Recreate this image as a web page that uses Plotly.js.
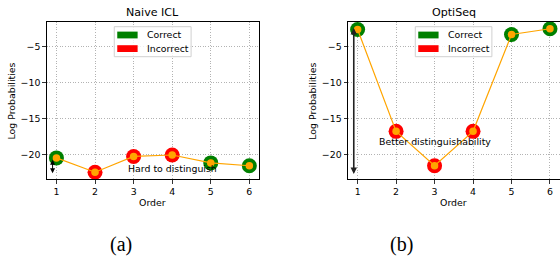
<!DOCTYPE html>
<html>
<head>
<meta charset="utf-8">
<script src="https://cdn.plot.ly/plotly-3.0.1.min.js"></script>
<style>html,body{margin:0;padding:0;background:#fff;}#chart{width:560px;height:257px;}</style>
</head>
<body>
<div id="chart"></div>
<script>
// ---- data ----
const orders = [1, 2, 3, 4, 5, 6];
const naiveLogProbs = [-20.5, -22.5, -20.3, -20.1, -21.2, -21.6];
const optiseqLogProbs = [-2.6, -16.8, -21.6, -16.8, -3.3, -2.5];
const naiveCorrect = [true, false, false, false, true, true];
const optiseqCorrect = [true, false, false, false, true, true];
const panelTitles = ["Naive ICL", "OptiSeq"];
const panelLabels = ["(a)", "(b)"];
const legendLabels = ["Correct", "Incorrect"];
const noteTexts = ["Hard to distinguish", "Better distinguishability"];
const notePos = [[4.0, -22.0], [3.0, -18.15]];
const arrowSpans = [[-20.55, -22.65], [-2.2, -22.75]];
const arrowX = 0.9;
const yTicks = [-5, -10, -15, -20];

// ---- style ----
const W = 560, H = 257;
const GREEN = "#008000", RED = "#ff0000", ORANGE = "#ffa500";
const FONT = "DejaVu Sans";
const px = x => x / W;
const py = y => 1 - y / H;
const xDomains = [[px(46.8), px(259)], [px(348), px(559.6)]];
const yDomain = [py(179.4), py(21.6)];

const traces = [];
const series = [[naiveLogProbs, naiveCorrect], [optiseqLogProbs, optiseqCorrect]];
series.forEach(([vals, corr], i) => {
  const xa = i === 0 ? "x" : "x2", ya = i === 0 ? "y" : "y2";
  traces.push({
    x: orders, y: vals, xaxis: xa, yaxis: ya, type: "scatter", mode: "markers",
    marker: {size: 15, color: corr.map(c => c ? GREEN : RED)},
    showlegend: false, hoverinfo: "skip"
  });
  traces.push({
    x: orders, y: vals, xaxis: xa, yaxis: ya, type: "scatter", mode: "lines+markers",
    line: {color: ORANGE, width: 1.2},
    marker: {size: 7.5, color: ORANGE},
    showlegend: false, hoverinfo: "skip"
  });
});

function axisX(i) {
  return {
    domain: xDomains[i], range: [0.75, 6.25], anchor: i === 0 ? "y" : "y2",
    tickvals: orders, ticktext: orders.map(String),
    ticks: "outside", ticklen: 3.5, tickwidth: 0.8, tickcolor: "#000",
    showline: true, linecolor: "#000", linewidth: 1, mirror: true,
    showgrid: true, gridcolor: "#a0a0a0", griddash: "1px,1.6px", gridwidth: 0.8,
    zeroline: false, tickfont: {family: FONT, size: 9.4, color: "#000"}, fixedrange: true
  };
}
function axisY(i) {
  return {
    domain: yDomain, range: [-23.5, -1.5], anchor: i === 0 ? "x" : "x2",
    tickvals: yTicks, ticktext: yTicks.map(v => "\u2212" + Math.abs(v)),
    ticks: "outside", ticklen: 3.5, tickwidth: 0.8, tickcolor: "#000",
    showline: true, linecolor: "#000", linewidth: 1, mirror: true,
    showgrid: true, gridcolor: "#a0a0a0", griddash: "1px,1.6px", gridwidth: 0.8,
    zeroline: false, tickfont: {family: FONT, size: 9.4, color: "#000"}, fixedrange: true
  };
}

const annotations = [];
const shapes = [];
[0, 1].forEach(i => {
  const xa = i === 0 ? "x" : "x2", ya = i === 0 ? "y" : "y2";
  const [x0, x1] = xDomains[i];
  const xc = (x0 + x1) / 2;
  const L = f => x0 + f * (x1 - x0);
  annotations.push({xref: "paper", yref: "paper", x: xc, y: py(12.5), text: panelTitles[i],
    showarrow: false, xanchor: "center", yanchor: "middle", font: {family: FONT, size: 11.1, color: "#000"}});
  annotations.push({xref: "paper", yref: "paper", x: xc, y: py(202.5), text: "Order",
    showarrow: false, xanchor: "center", yanchor: "middle", font: {family: FONT, size: 9.4, color: "#000"}});
  annotations.push({xref: "paper", yref: "paper", x: px(x0 * W - 35.3), y: py(101), text: "Log Probabilities",
    textangle: -90, showarrow: false, xanchor: "center", yanchor: "middle", font: {family: FONT, size: 9.4, color: "#000"}});
  annotations.push({xref: "paper", yref: "paper", x: px(i === 0 ? 121 : 401.5), y: py(244), text: panelLabels[i],
    showarrow: false, xanchor: "center", yanchor: "middle", font: {family: "Liberation Serif", size: 20, color: "#000"}});
  annotations.push({xref: xa, yref: ya, x: notePos[i][0], y: notePos[i][1], text: noteTexts[i],
    showarrow: false, xanchor: "center", yanchor: "middle", font: {family: FONT, size: 9.4, color: "#000"}});
  annotations.push({xref: xa, yref: ya, axref: xa, ayref: ya, x: arrowX, y: arrowSpans[i][1],
    ax: arrowX, ay: arrowSpans[i][0], text: "", showarrow: true, arrowhead: 2, arrowside: "end+start",
    arrowsize: i === 0 ? 1 : 0.8, arrowwidth: i === 0 ? 1 : 1.6, arrowcolor: i === 0 ? "#000" : "#222"});
  const bx0 = L(0.318), bx1 = L(0.680);
  shapes.push({type: "rect", xref: "paper", yref: "paper", x0: bx0, x1: bx1, y0: py(56.7), y1: py(26.7),
    line: {color: "#d0d0d0", width: 1}, fillcolor: "rgba(255,255,255,0.8)"});
  const rows = [[35, GREEN], [48.6, RED]];
  rows.forEach(([yc, col], k) => {
    shapes.push({type: "rect", xref: "paper", yref: "paper", x0: L(0.332), x1: L(0.428),
      y0: py(yc + 3.4), y1: py(yc - 3.4), line: {width: 0}, fillcolor: col});
    annotations.push({xref: "paper", yref: "paper", x: L(0.463), y: py(yc), text: legendLabels[k],
      showarrow: false, xanchor: "left", yanchor: "middle", font: {family: FONT, size: 9.4, color: "#000"}});
  });
});

const layout = {
  width: W, height: H, margin: {l: 0, r: 0, t: 0, b: 0},
  paper_bgcolor: "#fff", plot_bgcolor: "#fff", showlegend: false,
  font: {family: FONT, color: "#000"},
  xaxis: axisX(0), yaxis: axisY(0), xaxis2: axisX(1), yaxis2: axisY(1),
  annotations: annotations, shapes: shapes
};
Plotly.newPlot("chart", traces, layout, {staticPlot: true, displayModeBar: false});
</script>
</body>
</html>
